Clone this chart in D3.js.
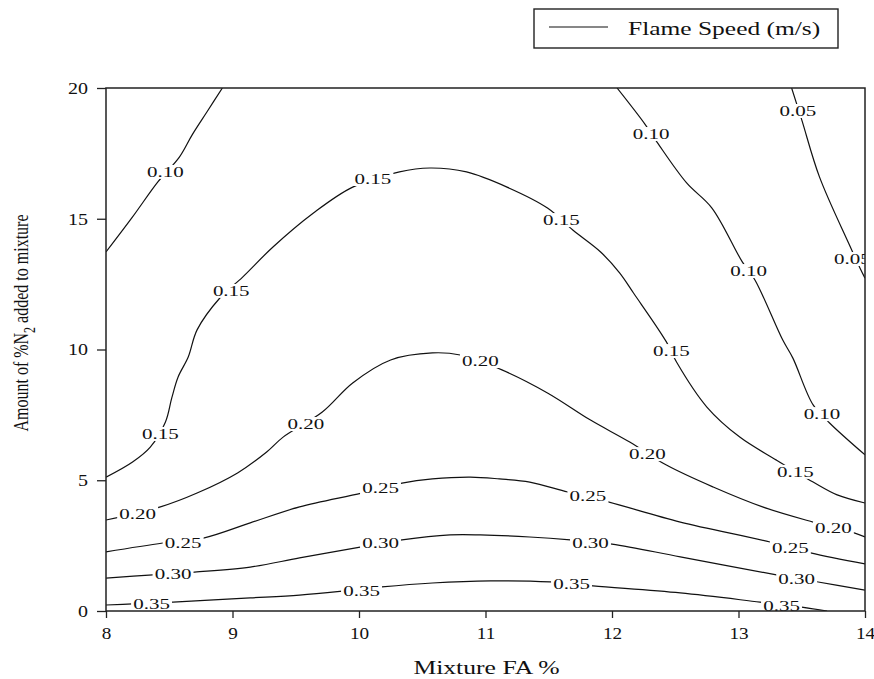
<!DOCTYPE html>
<html>
<head>
<meta charset="utf-8">
<script src="https://cdn.jsdelivr.net/npm/d3@7"></script>
<style>
  body { margin: 0; background: #fff; }
  text { font-family: "Liberation Serif", "Times New Roman", serif; fill: #111; }
</style>
</head>
<body>
<div class="chart"></div>
<script>
let width = 874, height = 679;

let margin = {
    top: 88,
    bottom: 68,
    left: 106,
    right: 9
};

// contour levels, points as [FA %, N2 %]
let levels = ["0.05", "0.10", "0.10", "0.15", "0.20", "0.25", "0.30", "0.35"];

let c005 = [[13.42,20],[13.50,18.78],[13.64,16.60],[13.87,14.07],[13.96,13.12],[14.0,12.73]];

let c010a = [[8.0,13.73],[8.21,15.07],[8.41,16.41],[8.58,17.36],[8.68,18.2],[8.80,19.1],[8.92,20]];

let c010b = [[12.04,20],[12.26,18.62],[12.36,17.90],[12.59,16.37],[12.79,15.41],[13.03,13.35],
    [13.13,12.66],[13.35,10.36],[13.43,9.67],[13.59,7.88],[13.72,7.19],[14.0,5.97]];

let c015 = [[8.0,5.12],[8.21,5.70],[8.35,6.27],[8.47,7.23],[8.52,8.15],[8.57,8.95],[8.65,9.71],
    [8.72,10.75],[8.90,11.97],[9.08,12.77],[9.32,13.92],[9.64,15.22],[9.95,16.21],[10.32,16.79],
    [10.56,16.94],[10.85,16.79],[11.17,16.21],[11.49,15.41],[11.69,14.57],[11.91,13.73],
    [12.06,12.93],[12.17,12.16],[12.43,10.29],[12.51,9.52],[12.75,7.80],[13.01,6.65],
    [13.30,5.77],[13.59,4.93],[13.78,4.44],[14.0,4.13]];

let c020 = [[8.0,3.48],[8.43,3.98],[8.72,4.51],[9.04,5.28],[9.27,6.08],[9.40,6.65],[9.71,7.61],
    [9.95,8.72],[10.25,9.60],[10.58,9.87],[10.80,9.79],[11.13,9.22],[11.49,8.34],[11.83,7.30],
    [12.14,6.46],[12.43,5.58],[12.80,4.74],[13.19,3.98],[13.59,3.40],[13.92,2.98],[14.0,2.83]];

let c025 = [[8.0,2.26],[8.45,2.60],[8.77,2.79],[9.14,3.37],[9.53,3.98],[10.02,4.51],[10.34,4.89],
    [10.58,5.05],[10.88,5.12],[11.11,5.05],[11.35,4.93],[11.65,4.55],[11.97,4.17],[12.54,3.40],
    [13.25,2.64],[13.57,2.22],[14.0,1.80]];

let c030 = [[8.0,1.26],[8.37,1.38],[8.70,1.49],[9.14,1.68],[9.53,2.03],[10.02,2.45],[10.34,2.72],
    [10.72,2.91],[10.96,2.91],[11.35,2.83],[11.67,2.72],[12.00,2.56],[12.54,2.07],[13.30,1.38],
    [13.63,1.11],[14.0,0.80]];

let c035 = [[8.0,0.23],[8.21,0.27],[8.53,0.34],[9.14,0.50],[9.53,0.61],[9.87,0.76],[10.18,0.92],
    [10.58,1.07],[11.04,1.15],[11.51,1.11],[11.85,0.96],[12.54,0.69],[13.17,0.34],[13.50,0.15],
    [13.70,0.0]];

let contours = [c005, c010a, c010b, c015, c020, c025, c030, c035];

// label text and where it sits [FA %, N2 %]
let labelText = ["0.10","0.10","0.10","0.10","0.05","0.05",
    "0.15","0.15","0.15","0.15","0.15","0.15",
    "0.20","0.20","0.20","0.20","0.20",
    "0.25","0.25","0.25","0.25",
    "0.30","0.30","0.30","0.30",
    "0.35","0.35","0.35","0.35"];
let labelPos = [[8.47,16.79],[12.31,18.24],[13.08,13.00],[13.66,7.53],[13.47,19.12],[13.90,13.46],
    [8.43,6.77],[8.99,12.24],[10.11,16.52],[11.60,14.95],[12.47,9.94],[13.45,5.32],
    [8.25,3.71],[9.58,7.15],[10.96,9.56],[12.28,6.00],[13.75,3.17],
    [8.61,2.60],[10.17,4.70],[11.81,4.40],[13.41,2.41],
    [8.53,1.41],[10.17,2.60],[11.83,2.60],[13.46,1.22],
    [8.36,0.27],[10.02,0.76],[11.68,1.03],[13.34,0.19]];

let xTicks = [8, 9, 10, 11, 12, 13, 14];
let yTicks = [0, 5, 10, 15, 20];

let svg = d3.select(".chart").append("svg")
    .attr("width", width)
    .attr("height", height);

let x = d3.scaleLinear().domain([8, 14]).range([margin.left, width - margin.right]);
let y = d3.scaleLinear().domain([0, 20]).range([height - margin.bottom, margin.top]);

svg.append("clipPath").attr("id", "plotclip")
    .append("rect")
    .attr("x", x(8)).attr("y", y(20))
    .attr("width", x(14) - x(8)).attr("height", y(0) - y(20));

let line = d3.line()
    .x(d => x(d[0]))
    .y(d => y(d[1]))
    .curve(d3.curveCatmullRom.alpha(0.5));

let plot = svg.append("g").attr("clip-path", "url(#plotclip)");

plot.selectAll(".contour")
    .data(contours)
    .enter().append("path")
    .attr("class", "contour")
    .attr("d", line)
    .attr("fill", "none")
    .attr("stroke", "#111")
    .attr("stroke-width", 1.2);

// labels sit on a white patch that breaks the line
let labels = svg.append("g").attr("clip-path", "url(#plotclip)")
    .selectAll(".clabel")
    .data(labelPos)
    .enter().append("g")
    .attr("class", "clabel")
    .attr("transform", d => "translate(" + x(d[0]) + "," + y(d[1]) + ") scale(1.4,1)");

labels.append("rect").attr("fill", "#fff");
labels.append("text")
    .attr("text-anchor", "middle")
    .attr("dy", "0.34em")
    .style("font-size", "15px")
    .text((d, i) => labelText[i]);

labels.each(function() {
    let g = d3.select(this);
    let bb = g.select("text").node().getBBox();
    g.select("rect")
        .attr("x", bb.x - 1.5)
        .attr("y", -7)
        .attr("width", bb.width + 3)
        .attr("height", 14);
});

// axes
let xAxis = svg.append("g")
    .attr("transform", "translate(0," + y(0) + ")")
    .call(d3.axisBottom(x).tickValues(xTicks).tickFormat(d3.format("d")).tickSize(7).tickSizeOuter(0));
xAxis.select(".domain").remove();
xAxis.selectAll("line").attr("stroke", "#222").attr("stroke-width", 1.3);
xAxis.selectAll("text")
    .attr("y", null).attr("dy", null)
    .attr("transform", "translate(0,27.5) scale(1.2,1)")
    .style("font-size", "16px")
    .attr("fill", "#111");

let yAxis = svg.append("g")
    .attr("transform", "translate(" + x(8) + ",0)")
    .call(d3.axisLeft(y).tickValues(yTicks).tickFormat(d3.format("d")).tickSize(9).tickSizeOuter(0));
yAxis.select(".domain").remove();
yAxis.selectAll("line").attr("stroke", "#222").attr("stroke-width", 1.3);
yAxis.selectAll("text")
    .attr("x", null).attr("dy", null)
    .attr("transform", "translate(-18,5.4) scale(1.25,1)")
    .style("font-size", "16px")
    .attr("fill", "#111");

svg.append("rect")
    .attr("x", x(8)).attr("y", y(20))
    .attr("width", x(14) - x(8)).attr("height", y(0) - y(20))
    .attr("fill", "none")
    .attr("stroke", "#222")
    .attr("stroke-width", 1.5);

// axis titles
svg.append("text")
    .attr("transform", "translate(" + ((x(8) + x(14)) / 2 + 1) + ",674) scale(1.35,1)")
    .attr("text-anchor", "middle")
    .style("font-size", "19px")
    .text("Mixture FA %");

let yTitle = svg.append("text")
    .attr("transform", "translate(28,323) scale(1.35,1) rotate(-90)")
    .attr("text-anchor", "middle")
    .style("font-size", "16px");
yTitle.append("tspan").text("Amount of %N");
yTitle.append("tspan").attr("dy", 5).style("font-size", "12px").text("2");
yTitle.append("tspan").attr("dy", -5).text(" added to mixture");

// legend
let legend = svg.append("g");
legend.append("rect")
    .attr("x", 534).attr("y", 9)
    .attr("width", 304).attr("height", 39)
    .attr("fill", "#fff")
    .attr("stroke", "#222")
    .attr("stroke-width", 1.4);
legend.append("line")
    .attr("x1", 549).attr("x2", 608)
    .attr("y1", 27).attr("y2", 27)
    .attr("stroke", "#111")
    .attr("stroke-width", 1.2);
legend.append("text")
    .attr("transform", "translate(628,35) scale(1.34,1)")
    .style("font-size", "19px")
    .text("Flame Speed (m/s)");
</script>
</body>
</html>
